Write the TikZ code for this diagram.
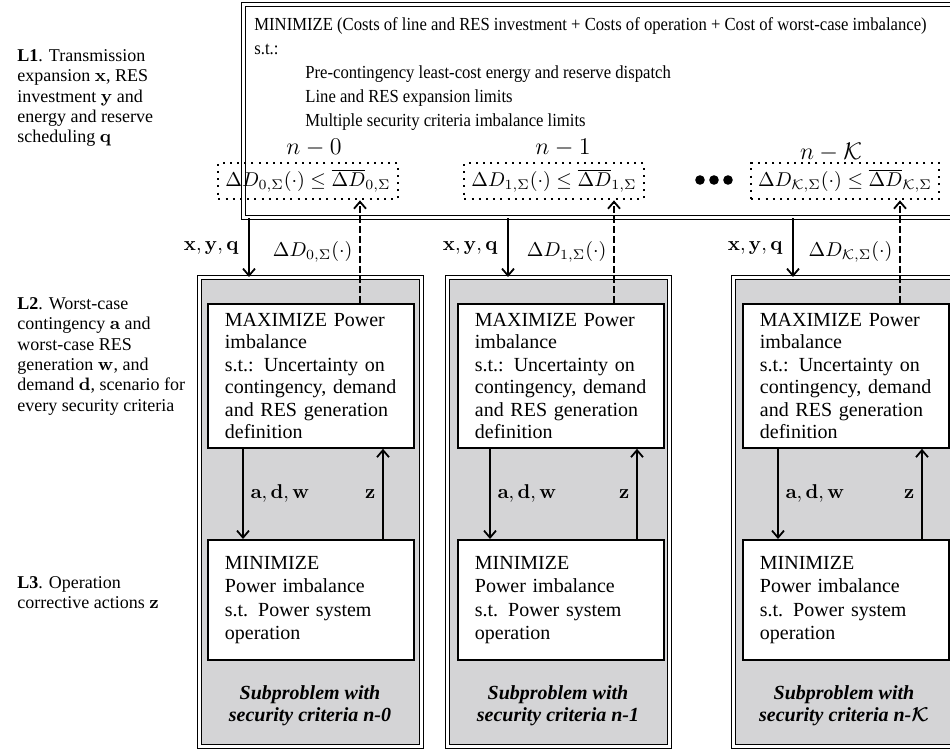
\documentclass[tikz,border=0pt]{standalone}
\usepackage{amsmath,amssymb}
\usepackage[no-math]{fontspec}
\setmainfont{Liberation Serif}
\newfontfamily\condfont[FakeStretch=0.905]{Liberation Serif}
\usetikzlibrary{positioning,arrows.meta}
\definecolor{subgray}{RGB}{212,212,214}

\tikzset{
  master/.style={draw,line width=0.6pt,double,double distance=1.4pt,anchor=north west,
    minimum width=360pt,minimum height=106.5pt,inner sep=0pt},
  toptext/.style={anchor=west,inner sep=0pt,font=\condfont\fontsize{9.2}{11}\selectfont},
  limbox/.style={draw,line width=1pt,dash pattern=on 1pt off 2.6pt,line cap=butt,
    inner xsep=3.5pt,minimum height=17.5pt},
  nlab/.style={font=\large,inner sep=0pt},
  subbox/.style={draw,line width=0.5pt,double,double distance=1.2pt,fill=subgray,
    anchor=north west,minimum width=111pt,minimum height=234.5pt,inner sep=0pt},
  maxbox/.style={draw,line width=0.9pt,fill=white,anchor=north west,align=left,
    text width=86pt,inner xsep=8.5pt,minimum height=72pt,font=\fontsize{10}{11.2}\selectfont},
  minbox/.style={maxbox,minimum height=60pt,font=\fontsize{10}{11.7}\selectfont},
  subtxt/.style={align=center,inner sep=0pt,font=\bfseries\itshape\fontsize{10}{11}\selectfont},
  lvl/.style={anchor=north west,align=left,inner sep=0pt,font=\fontsize{9}{10.2}\selectfont},
  arr/.style={->,line width=0.9pt},
  darr/.style={->,line width=0.9pt,dash pattern=on 3.5pt off 1.5pt},
}

\begin{document}
\begin{tikzpicture}[x=0.5pt,y=-0.5pt,>={Straight Barb[length=3.5pt,width=6pt]}]
\clip (0,0) rectangle (950,749);

% level labels on the left
\node[lvl] (L1) at (17,49) {\textbf{L1}. Transmission\\expansion $\mathbf{x}$, RES\\investment $\mathbf{y}$ and\\energy and reserve\\scheduling $\mathbf{q}$};
\node[lvl] (L2) at (17,297) {\textbf{L2}. Worst-case\\contingency $\mathbf{a}$ and\\worst-case RES\\generation $\mathbf{w}$, and\\demand $\mathbf{d}$, scenario for\\every security criteria};
\node[lvl] (L3) at (17,576) {\textbf{L3}. Operation\\corrective actions $\mathbf{z}$};

% master problem
\node[master] (master) at (243,4) {};
\node[toptext] (goal) at (254,26) {MINIMIZE (Costs of line and RES investment + Costs of operation + Cost of worst-case imbalance)};
\node[toptext] (st) at (254,49) {s.t.:};
\node[toptext] (c1) at (305,74) {Pre-contingency least-cost energy and reserve dispatch};
\node[toptext] (c2) at (305,98) {Line and RES expansion limits};
\node[toptext] (c3) at (305,122) {Multiple security criteria imbalance limits};

\node[nlab] (n0) at (314,148) {$n-0$};
\node[nlab] (n1) at (563,148) {$n-1$};
\node[nlab] (nK) at (831,152) {$n-\mathcal{K}$};
\node[limbox] (lim0) at (308,181) {$\Delta D_{0,\Sigma}(\cdot)\le\overline{\Delta D}_{0,\Sigma}$};
\node[limbox] (lim1) at (554,181) {$\Delta D_{1,\Sigma}(\cdot)\le\overline{\Delta D}_{1,\Sigma}$};
\node[limbox] (limK) at (845,181) {$\Delta D_{\mathcal{K},\Sigma}(\cdot)\le\overline{\Delta D}_{\mathcal{K},\Sigma}$};
\foreach \i in {0,1,2}
  \fill (700+14*\i,180) circle (2.4pt);

% subproblems
\node[subbox] (sub0) at (199,277) {};
\node[subbox] (sub1) at (447,277) {};
\node[subbox] (subK) at (733,277) {};

\node[maxbox] (max0) at (207,303) {MAXIMIZE Power\\imbalance\\s.t.: Uncertainty on\\contingency, demand\\and RES generation\\definition};
\node[maxbox] (max1) at (457,303) {MAXIMIZE Power\\imbalance\\s.t.: Uncertainty on\\contingency, demand\\and RES generation\\definition};
\node[maxbox] (maxK) at (742,303) {MAXIMIZE Power\\imbalance\\s.t.: Uncertainty on\\contingency, demand\\and RES generation\\definition};

\node[minbox] (min0) at (207,539) {MINIMIZE\\Power imbalance\\s.t. Power system\\operation};
\node[minbox] (min1) at (457,539) {MINIMIZE\\Power imbalance\\s.t. Power system\\operation};
\node[minbox] (minK) at (742,539) {MINIMIZE\\Power imbalance\\s.t. Power system\\operation};

\node[subtxt] (t0) at (310,706) {Subproblem with\\security criteria n-0};
\node[subtxt] (t1) at (558,706) {Subproblem with\\security criteria n-1};
\node[subtxt] (tK) at (844,706) {Subproblem with\\security criteria n-{\boldmath$\mathcal{K}$}};

% master <-> subproblems
\draw[arr] ([xshift=25pt]sub0.north west |- master.south) -- ([xshift=25pt]sub0.north west)
  node[midway,left=1.5pt] {$\mathbf{x},\mathbf{y},\mathbf{q}$};
\draw[arr] ([xshift=30.5pt]sub1.north west |- master.south) -- ([xshift=30.5pt]sub1.north west)
  node[midway,left=1.5pt] {$\mathbf{x},\mathbf{y},\mathbf{q}$};
\draw[arr] ([xshift=30pt]subK.north west |- master.south) -- ([xshift=30pt]subK.north west)
  node[midway,left=1.5pt] {$\mathbf{x},\mathbf{y},\mathbf{q}$};

\draw[darr] ([xshift=76.5pt]max0.north west) -- ([xshift=76.5pt]max0.north west |- lim0.south)
  node[midway,left=0pt] {$\Delta D_{0,\Sigma}(\cdot)$};
\draw[darr] ([xshift=78.5pt]max1.north west) -- ([xshift=78.5pt]max1.north west |- lim1.south)
  node[midway,left=0pt] {$\Delta D_{1,\Sigma}(\cdot)$};
\draw[darr] ([xshift=79pt]maxK.north west) -- ([xshift=79pt]maxK.north west |- limK.south)
  node[midway,left=0pt] {$\Delta D_{\mathcal{K},\Sigma}(\cdot)$};

% L2 <-> L3
\draw[arr] ([xshift=18pt]max0.south west) -- ([xshift=18pt]max0.south west |- min0.north)
  node[midway,right=0pt] {$\mathbf{a},\mathbf{d},\mathbf{w}$};
\draw[arr] ([xshift=88pt]min0.north west) -- ([xshift=88pt]min0.north west |- max0.south)
  node[midway,left=0pt] {$\mathbf{z}$};
\draw[arr] ([xshift=16.5pt]max1.south west) -- ([xshift=16.5pt]max1.south west |- min1.north)
  node[midway,right=0pt] {$\mathbf{a},\mathbf{d},\mathbf{w}$};
\draw[arr] ([xshift=90pt]min1.north west) -- ([xshift=90pt]min1.north west |- max1.south)
  node[midway,left=0pt] {$\mathbf{z}$};
\draw[arr] ([xshift=18pt]maxK.south west) -- ([xshift=18pt]maxK.south west |- minK.north)
  node[midway,right=0pt] {$\mathbf{a},\mathbf{d},\mathbf{w}$};
\draw[arr] ([xshift=90pt]minK.north west) -- ([xshift=90pt]minK.north west |- maxK.south)
  node[midway,left=0pt] {$\mathbf{z}$};
\end{tikzpicture}
\end{document}
